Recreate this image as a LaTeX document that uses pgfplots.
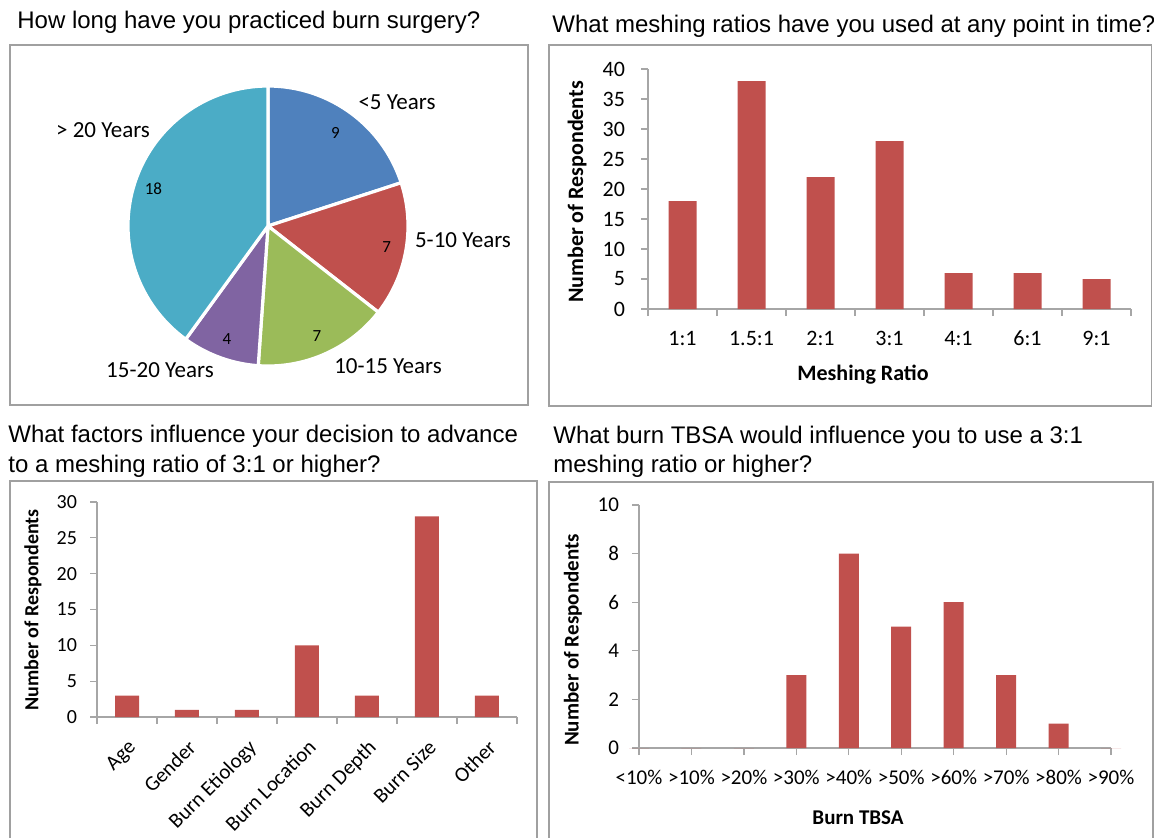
\documentclass[border=0pt]{standalone}
\usepackage{fontspec}
\setmainfont{Carlito}
\newfontfamily\titlefont{Liberation Sans}
\usepackage{pgfplots}
\pgfplotsset{compat=1.18}
\definecolor{barred}{HTML}{C0504D}
\definecolor{pieblue}{HTML}{4F81BD}
\definecolor{piered}{HTML}{C0504D}
\definecolor{piegreen}{HTML}{9BBB59}
\definecolor{piepurple}{HTML}{8064A2}
\definecolor{pieaqua}{HTML}{4BACC6}
\definecolor{axisgray}{HTML}{A6A6A6}
\definecolor{boxgray}{HTML}{A0A0A0}
\pgfplotsset{
  barchart/.style={
    scale only axis,
    axis lines*=left,
    axis line style={draw=axisgray, line width=0.6pt},
    tick style={draw=axisgray, line width=0.6pt},
    tick align=outside,
    major tick length=3.5pt,
    ytick pos=left, xtick pos=bottom,
    /pgf/number format/assume math mode=true,
    yticklabel style={xshift=-3pt},
    clip=false,
  }
}
\def\vA{9}\def\vB{7}\def\vC{7}\def\vD{4}\def\vE{18}
\pgfmathsetmacro\tot{\vA+\vB+\vC+\vD+\vE}
\pgfmathsetmacro\aA{90}
\pgfmathsetmacro\aB{\aA-360*\vA/\tot}
\pgfmathsetmacro\aC{\aB-360*\vB/\tot}
\pgfmathsetmacro\aD{\aC-360*\vC/\tot}
\pgfmathsetmacro\aE{\aD-360*\vD/\tot}
\pgfmathsetmacro\aF{\aE-360*\vE/\tot}
\begin{document}
\begin{tikzpicture}
\path[use as bounding box] (0,0) rectangle (577pt,-418.5pt);
% frames
\draw[boxgray, line width=0.6pt] (5pt,-22.5pt) rectangle (264pt,-202.5pt);
\draw[boxgray, line width=0.6pt] (274.5pt,-22.5pt) rectangle (575.8pt,-203pt);
\draw[boxgray, line width=0.6pt] (5pt,-425pt) -- (5pt,-240.5pt) -- (268.5pt,-240.5pt) -- (268.5pt,-425pt);
\draw[boxgray, line width=0.6pt] (274.5pt,-425pt) -- (274.5pt,-241pt) -- (576.5pt,-241pt) -- (576.5pt,-425pt);
% titles
\begin{scope}[every node/.style={anchor=west, inner sep=0pt, font=\titlefont\fontsize{12}{14}\selectfont}]
\node at (8.5pt,-11pt) {How long have you practiced burn surgery?};
\node at (276pt,-13pt) {What meshing ratios have you used at any point in time?};
\node at (4pt,-218pt) {What factors influence your decision to advance};
\node at (4pt,-233pt) {to a meshing ratio of 3:1 or higher?};
\node at (276.5pt,-218.5pt) {What burn TBSA would influence you to use a 3:1};
\node at (276.5pt,-233pt) {meshing ratio or higher?};
\end{scope}
% ---------- pie ----------
\begin{axis}[at={(134pt,-113pt)}, anchor=center, width=140pt, height=140pt,
  scale only axis, xmin=-1, xmax=1, ymin=-1, ymax=1, hide axis, clip=false]
\addplot[fill=pieblue, draw=white, line width=1.6pt, domain=\aB:\aA, samples=60] ({cos(x)},{sin(x)}) -- (axis cs:0,0) -- cycle;
\addplot[fill=piered, draw=white, line width=1.6pt, domain=\aC:\aB, samples=60] ({cos(x)},{sin(x)}) -- (axis cs:0,0) -- cycle;
\addplot[fill=piegreen, draw=white, line width=1.6pt, domain=\aD:\aC, samples=60] ({cos(x)},{sin(x)}) -- (axis cs:0,0) -- cycle;
\addplot[fill=piepurple, draw=white, line width=1.6pt, domain=\aE:\aD, samples=60] ({cos(x)},{sin(x)}) -- (axis cs:0,0) -- cycle;
\addplot[fill=pieaqua, draw=white, line width=1.6pt, domain=\aF:\aE, samples=100] ({cos(x)},{sin(x)}) -- (axis cs:0,0) -- cycle;
\begin{scope}[every node/.style={font=\fontsize{8.5}{10}\selectfont}]
\node at (axis cs:{0.82*cos((\aA+\aB)/2)},{0.82*sin((\aA+\aB)/2)}) {\vA};
\node at (axis cs:{0.86*cos((\aB+\aC)/2)},{0.86*sin((\aB+\aC)/2)}) {\vB};
\node at (axis cs:{0.86*cos((\aC+\aD)/2)},{0.86*sin((\aC+\aD)/2)}) {\vC};
\node at (axis cs:{0.86*cos((\aD+\aE)/2)},{0.86*sin((\aD+\aE)/2)}) {\vD};
\node at (axis cs:{0.86*cos((\aE+\aF)/2)},{0.86*sin((\aE+\aF)/2)}) {\vE};
\end{scope}
\end{axis}
\begin{scope}[every node/.style={font=\fontsize{11.5}{13}\selectfont, inner sep=0pt}]
\node at (198.5pt,-51pt) {<5 Years};
\node at (231.5pt,-120pt) {5-10 Years};
\node at (194pt,-183pt) {10-15 Years};
\node at (80pt,-185pt) {15-20 Years};
\node at (51.5pt,-65pt) {> 20 Years};
\end{scope}
% ---------- meshing ratios ----------
\begin{axis}[barchart, at={(324pt,-154.5pt)}, anchor=south west,
  width=241.5pt, height=120pt,
  xmin=-0.5, xmax=6.5, ymin=0, ymax=40, ytick={0,5,...,40},
  xtick={-0.5,0.5,1.5,2.5,3.5,4.5,5.5,6.5}, x tick label as interval,
  xticklabels={1:1,1.5:1,2:1,3:1,4:1,6:1,9:1},
  tick label style={font=\fontsize{11}{13}\selectfont},
  yticklabel style={xshift=-1.5pt},
  xticklabel style={yshift=-4pt}]
\addplot[ybar, bar width=14pt, fill=barred, draw=none] coordinates {(0,18) (1,38) (2,22) (3,28) (4,6) (5,6) (6,5)};
\end{axis}
\node[font=\bfseries\fontsize{11}{13}\selectfont] at (431.5pt,-187.5pt) {Meshing Ratio};
\node[font=\bfseries\fontsize{11}{13}\selectfont, rotate=90] at (288.5pt,-96pt) {Number of Respondents};
% ---------- factors ----------
\begin{axis}[barchart, at={(48.5pt,-358.5pt)}, anchor=south west,
  width=210pt, height=107.5pt,
  xmin=-0.5, xmax=6.5, ymin=0, ymax=30, ytick={0,5,...,30},
  xtick={-0.5,0.5,1.5,2.5,3.5,4.5,5.5,6.5}, x tick label as interval,
  xticklabels={Age,Gender,Burn Etiology,Burn Location,Burn Depth,Burn Size,Other},
  yticklabel style={font=\fontsize{10}{12}\selectfont},
  xticklabel style={font=\fontsize{10.5}{12}\selectfont, rotate=45, anchor=north east, inner sep=1pt, xshift=-4pt, yshift=-4pt}]
\addplot[ybar, bar width=12pt, fill=barred, draw=none] coordinates {(0,3) (1,1) (2,1) (3,10) (4,3) (5,28) (6,3)};
\end{axis}
\node[font=\bfseries\fontsize{10}{12}\selectfont, rotate=90] at (16.5pt,-305pt) {Number of Respondents};
% ---------- TBSA ----------
\begin{axis}[barchart, at={(319.5pt,-374pt)}, anchor=south west,
  width=236pt, height=121.5pt,
  xmin=0, xmax=9, ymin=0, ymax=10, ytick={0,2,...,10},
  xtick={0,...,9},
  xticklabels={<10\%,>10\%,>20\%,>30\%,>40\%,>50\%,>60\%,>70\%,>80\%,>90\%},
  tick label style={font=\fontsize{10.5}{12}\selectfont},
  xticklabel style={yshift=-4pt}]
\addplot[ybar, bar width=10pt, fill=barred, draw=none] coordinates {(0,0) (1,0) (2,0) (3,3) (4,8) (5,5) (6,6) (7,3) (8,1) (9,0)};
\end{axis}
\node[font=\bfseries\fontsize{10.5}{12}\selectfont] at (429pt,-409pt) {Burn TBSA};
\node[font=\bfseries\fontsize{10.5}{12}\selectfont, rotate=90] at (286.5pt,-320pt) {Number of Respondents};
\end{tikzpicture}
\end{document}
